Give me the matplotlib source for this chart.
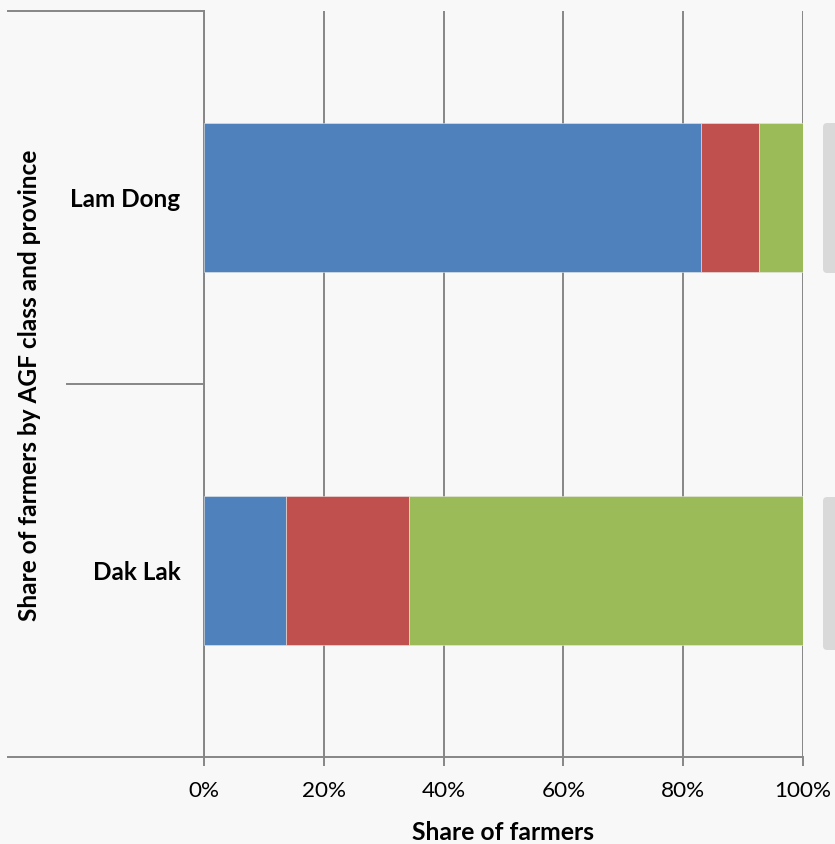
import matplotlib.pyplot as plt
from matplotlib.lines import Line2D
from matplotlib.patches import FancyBboxPatch
from matplotlib.ticker import PercentFormatter
import numpy as np

plt.rcParams['font.family'] = ['Lato', 'DejaVu Sans']

provinces = ['Lam Dong', 'Dak Lak']
# share of farmers per AGF class (%)
class_1 = [83.0, 13.7]
class_2 = [9.7, 20.5]
class_3 = [7.3, 65.8]
colors = ['#4f81bd', '#c0504d', '#9bbb59']
x_ticks = [0, 20, 40, 60, 80, 100]

W, H = 835, 844
bg = '#f8f8f8'
grid_c = '#868686'

fig = plt.figure(figsize=(W / 100, H / 100), dpi=100, facecolor=bg)
ax = fig.add_axes([204 / W, 1 - 757 / H, (803 - 204) / W, (757 - 11) / H])
ax.set_facecolor(bg)

y = np.arange(len(provinces))
left = np.zeros(len(provinces))
for vals, c in zip([class_1, class_2, class_3], colors):
    ax.barh(y, vals, left=left, height=0.402, color=c, edgecolor='#e8e8e8',
            linewidth=0.4, zorder=3)
    left += np.array(vals)

ax.set_xlim(0, 100)
ax.set_ylim(len(provinces) - 0.5, -0.5)
ax.set_xticks(x_ticks)
ax.xaxis.set_major_formatter(PercentFormatter(decimals=0))
ax.set_yticks(y)
ax.set_yticklabels(provinces, fontsize=17.5, fontweight='bold')
ax.tick_params(axis='y', length=0, pad=17)
ax.tick_params(axis='x', length=6.5, width=1.4, color=grid_c, labelsize=16.2, pad=11)
ax.grid(axis='x', color=grid_c, linewidth=1.4, zorder=0)
for s in ['top', 'right']:
    ax.spines[s].set_visible(False)
for s in ['left', 'bottom']:
    ax.spines[s].set_color(grid_c)
    ax.spines[s].set_linewidth(1.4)

ax.set_xlabel('Share of farmers', fontsize=17.8, fontweight='bold', labelpad=14)

# multi-level category axis lines
def hline(x0, x1, yy):
    fig.add_artist(Line2D([x0 / W, x1 / W], [1 - yy / H, 1 - yy / H],
                          color=grid_c, linewidth=1.4))

hline(8, 204, 11)
hline(67, 204, 384)
hline(8, 204, 757)

fig.text(30 / W, 1 - 385 / H, 'Share of farmers by AGF class and province',
         rotation=90, ha='center', va='center', fontsize=17.6, fontweight='bold')

# clipped grey boxes on the right edge
for y0, y1 in [(123, 273), (497, 650)]:
    fig.add_artist(FancyBboxPatch((823 / W, 1 - y1 / H), 40 / W, (y1 - y0) / H,
                                  boxstyle='round,pad=0,rounding_size=0.005',
                                  transform=fig.transFigure, facecolor='#d9d9d9',
                                  edgecolor='none'))

fig.savefig('out.png', dpi=100, facecolor=bg)
